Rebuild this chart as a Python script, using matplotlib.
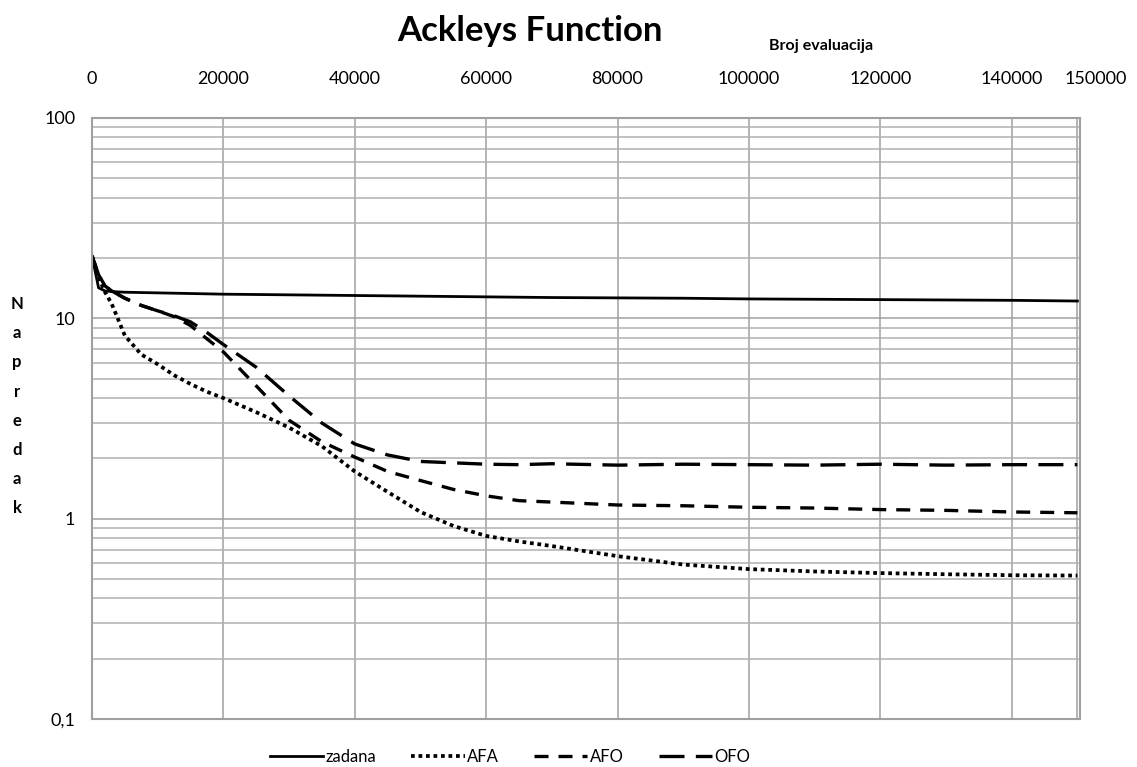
import numpy as np
import matplotlib
matplotlib.use('Agg')
import matplotlib.pyplot as plt
import matplotlib.transforms as mtransforms
from matplotlib.ticker import FixedLocator, LogLocator, NullFormatter

plt.rcParams['font.family'] = ['Lato', 'DejaVu Sans']

# Broj evaluacija (shared x grid)
evals = [0, 1000, 2000, 3000, 5000, 7500, 10000, 12500, 15000, 17500, 20000,
         25000, 30000, 35000, 40000, 45000, 50000, 55000, 60000, 65000, 70000,
         80000, 90000, 100000, 110000, 120000, 130000, 140000, 150000]

zadana = [20.5, 14.2, 13.7, 13.6, 13.5, 13.45, 13.4, 13.35, 13.3, 13.25, 13.2,
          13.15, 13.1, 13.05, 13.0, 12.95, 12.9, 12.85, 12.8, 12.75, 12.7,
          12.65, 12.6, 12.5, 12.45, 12.4, 12.35, 12.3, 12.2]

afa = [20.5, 16.0, 13.5, 11.8, 8.2, 6.6, 5.9, 5.2, 4.7, 4.3, 4.0,
       3.4, 2.85, 2.3, 1.72, 1.36, 1.08, 0.92, 0.82, 0.77, 0.73,
       0.65, 0.59, 0.56, 0.545, 0.535, 0.528, 0.522, 0.52]

afo = [20.5, 16.5, 14.5, 13.7, 12.6, 11.6, 10.9, 10.2, 9.2, 7.9, 6.8,
       4.6, 3.1, 2.42, 2.03, 1.72, 1.55, 1.40, 1.30, 1.23, 1.21,
       1.17, 1.16, 1.14, 1.13, 1.11, 1.10, 1.08, 1.07]

ofo = [20.5, 16.5, 14.5, 13.7, 12.6, 11.6, 10.9, 10.3, 9.6, 8.5, 7.4,
       5.7, 4.1, 3.0, 2.36, 2.08, 1.93, 1.90, 1.87, 1.86, 1.88,
       1.85, 1.87, 1.86, 1.85, 1.87, 1.85, 1.86, 1.86]

x_ticks = [0, 20000, 40000, 60000, 80000, 100000, 120000, 140000, 150000]
y_ticks = [0.1, 1, 10, 100]
y_tick_labels = ['0,1', '1', '10', '100']

fig = plt.figure(figsize=(11.37, 7.67), dpi=100)
ax = fig.add_axes([92/1137, 1 - 719/767, (1080 - 92)/1137, (719 - 118)/767])

ax.plot(evals, zadana, color='black', lw=2.0, label='zadana')
ax.plot(evals, afa, color='black', lw=2.7, ls=(0, (1, 1)), dash_capstyle='butt', label='AFA')
ax.plot(evals, afo, color='black', lw=2.4, ls=(0, (4.2, 3.0)), dash_capstyle='butt', label='AFO')
ax.plot(evals, ofo, color='black', lw=2.4, ls=(0, (7.5, 3.4)), dash_capstyle='butt', label='OFO')

ax.set_yscale('log')
ax.set_ylim(0.1, 100)
ax.set_xlim(0, 150400)

ax.xaxis.tick_top()
ax.set_xticks(x_ticks)
ax.set_xticklabels([str(t) for t in x_ticks])
ax.yaxis.set_major_locator(FixedLocator(y_ticks))
ax.set_yticklabels(y_tick_labels)
ax.yaxis.set_minor_locator(LogLocator(base=10, subs=np.arange(2, 10)))
ax.yaxis.set_minor_formatter(NullFormatter())
ax.tick_params(axis='both', which='both', length=0, labelsize=13, colors='black')
ax.tick_params(axis='x', pad=22)
ax.tick_params(axis='y', pad=12)

# shift the 150000 label to the right like the original
lbl = ax.get_xticklabels()[-1]
lbl.set_transform(lbl.get_transform() + mtransforms.ScaledTranslation(18/100, 0, fig.dpi_scale_trans))

ax.grid(True, which='major', axis='both', color='#a0a0a0', lw=1.1)
ax.grid(True, which='minor', axis='y', color='#b0b0b0', lw=1.1)
ax.set_axisbelow(True)
for s in ax.spines.values():
    s.set_color('#a0a0a0')
    s.set_linewidth(1.5)

fig.text(530/1137, 1 - 31/767, 'Ackleys Function', ha='center', va='center',
         fontsize=25, fontweight='bold')
fig.text(821/1137, 1 - 46/767, 'Broj evaluacija', ha='center', va='center',
         fontsize=11.5, fontweight='bold')

for i, ch in enumerate('Napredak'):
    fig.text(17/1137, 1 - (304 + 29.2 * i)/767, ch, ha='center', va='center',
             fontsize=12, fontweight='bold')

ax.legend(loc='center', bbox_to_anchor=(510/1137, 1 - 757/767), bbox_transform=fig.transFigure,
          ncol=4, frameon=False, fontsize=12, handlelength=3.2, handletextpad=0.15,
          columnspacing=2.1)

fig.savefig('out.png', dpi=100)
